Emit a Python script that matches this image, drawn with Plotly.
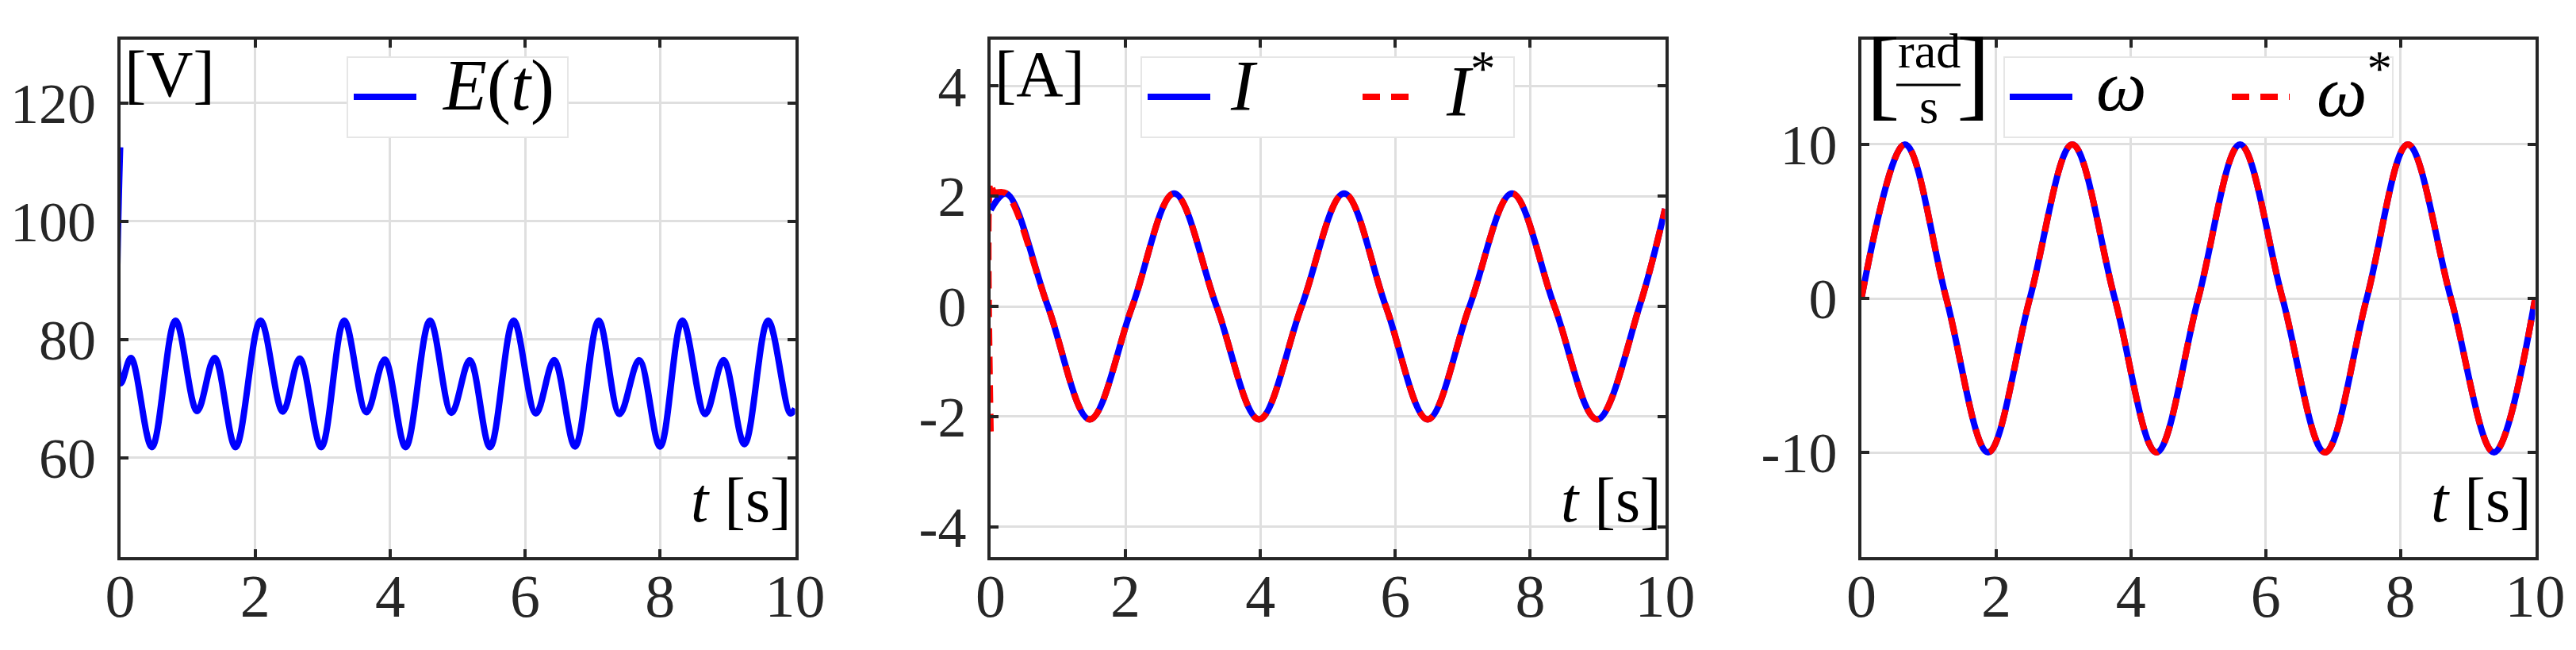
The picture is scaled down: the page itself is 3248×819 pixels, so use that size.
"""Three-panel time response: E(t), I / I*, omega / omega*."""
import plotly.graph_objects as go

# ---- data ------------------------------------------------------------
E_T = [0.0, 0.01, 0.16, 0.47, 0.82, 1.14, 1.40, 1.71, 2.08, 2.41, 2.66, 2.98,
       3.32, 3.65, 3.92, 4.23, 4.59, 4.91, 5.18, 5.48, 5.83, 6.16, 6.43, 6.74,
       7.09, 7.40, 7.69, 8.00, 8.33, 8.67, 8.94, 9.25, 9.60, 9.93, 10.0]
E_V = [112.5, 72.6, 76.9, 61.8, 83.2, 67.9, 76.9, 61.8, 83.2, 67.8, 76.8, 61.8,
       83.2, 67.7, 76.6, 61.8, 83.2, 67.6, 76.5, 61.8, 83.2, 67.5, 76.5, 61.9,
       83.2, 67.4, 76.5, 61.9, 83.2, 67.4, 76.5, 62.3, 83.2, 67.5, 68.3]

I_T = [0.0, 0.23, 0.85, 1.47, 2.10, 2.72, 3.35, 3.98, 4.61, 5.24, 5.86, 6.48,
       7.10, 7.73, 8.36, 8.99, 9.62, 10.0]
I_V = [1.75, 2.05, 0.0, -2.05, 0.0, 2.05, 0.0, -2.05, 0.0, 2.05, 0.0, -2.05,
       0.0, 2.05, 0.0, -2.05, 0.0, 1.77]
IREF_T = [0.0, 0.0, 0.05, 0.23, 0.85, 1.47, 2.10, 2.72, 3.35, 3.98, 4.61, 5.24,
          5.86, 6.48, 7.10, 7.73, 8.36, 8.99, 9.62, 10.0]
IREF_V = [-2.27, 2.27, 2.08, 2.05, 0.0, -2.05, 0.0, 2.05, 0.0, -2.05, 0.0, 2.05,
          0.0, -2.05, 0.0, 2.05, 0.0, -2.05, 0.0, 1.77]

W_T = [0.0, 0.645, 1.26, 1.88, 2.50, 3.13, 3.76, 4.38, 5.00, 5.62, 6.25, 6.88,
       7.50, 8.11, 8.75, 9.39, 10.0]
W_V = [0.0, 10.0, 0.0, -10.0, 0.0, 10.0, 0.0, -10.0, 0.0, 10.0, 0.0, -10.0,
       0.0, 10.0, 0.0, -10.0, 0.0]

X_TICKS = [0, 2, 4, 6, 8, 10]
Y1_TICKS = [60, 80, 100, 120]
Y2_TICKS = [-4, -2, 0, 2, 4]
Y3_TICKS = [-10, 0, 10]
Y_TICK_TEXT2 = ["-4", "-2", "0", "2", "4"]
Y_TICK_TEXT3 = ["-10", "0", "10"]
Y_RANGES = [[43.2, 130.7], [-4.55, 4.84], [-16.8, 16.8]]

# ---- styling ---------------------------------------------------------
W, H = 3248, 819
BLUE = "#0000FF"
RED = "#FF0000"
AX = "#262626"
GRID = "#DFDFDF"
FONT = "Liberation Serif"
LW = 8
DASH = "22px,14px"

PANEL_X = [(143.5, 994.5), (1241, 2091.5), (2339, 3188.5)]
PANEL_Y = (42, 694)


def fx(p):
    return p / W


def fy(p):
    return 1 - p / H


fig = go.Figure()

fig.add_trace(go.Scatter(x=E_T, y=E_V, mode="lines", name="E(t)",
                         line=dict(color=BLUE, width=LW, shape="spline"),
                         xaxis="x", yaxis="y", showlegend=False))
fig.add_trace(go.Scatter(x=I_T, y=I_V, mode="lines", name="I",
                         line=dict(color=BLUE, width=LW, shape="spline"),
                         xaxis="x2", yaxis="y2", showlegend=False))
fig.add_trace(go.Scatter(x=IREF_T, y=IREF_V, mode="lines", name="I*",
                         line=dict(color=RED, width=LW, shape="spline", dash=DASH),
                         xaxis="x2", yaxis="y2", showlegend=False))
fig.add_trace(go.Scatter(x=W_T, y=W_V, mode="lines", name="ω",
                         line=dict(color=BLUE, width=LW, shape="spline"),
                         xaxis="x3", yaxis="y3", showlegend=False))
fig.add_trace(go.Scatter(x=W_T, y=W_V, mode="lines", name="ω*",
                         line=dict(color=RED, width=LW, shape="spline", dash=DASH),
                         xaxis="x3", yaxis="y3", showlegend=False))

axis_common = dict(
    showline=True, linecolor=AX, linewidth=4, mirror="ticks",
    ticks="inside", ticklen=10, tickwidth=4, tickcolor=AX,
    showgrid=True, gridcolor=GRID, gridwidth=3, zeroline=False,
    automargin=False,
)

y_ticks = [(Y1_TICKS, [str(v) for v in Y1_TICKS]),
           (Y2_TICKS, Y_TICK_TEXT2),
           (Y3_TICKS, Y_TICK_TEXT3)]

layout = dict(
    template="none",
    width=W, height=H, autosize=False,
    margin=dict(l=0, r=0, t=0, b=0, pad=0),
    paper_bgcolor="white", plot_bgcolor="white",
    showlegend=False,
)
for i in range(3):
    sx = "" if i == 0 else str(i + 1)
    x0, x1 = PANEL_X[i]
    layout["xaxis" + sx] = dict(
        axis_common, domain=[fx(x0), fx(x1)], range=[0, 10],
        tickvals=X_TICKS, ticktext=[str(v) for v in X_TICKS],
        anchor="y" + sx, ticklabelstandoff=-20,
        tickfont=dict(family=FONT, size=76, color=AX),
    )
    layout["yaxis" + sx] = dict(
        axis_common, domain=[fy(PANEL_Y[1]), fy(PANEL_Y[0])], range=Y_RANGES[i],
        tickvals=y_ticks[i][0], ticktext=y_ticks[i][1],
        anchor="x" + sx, ticklabelstandoff=12,
        tickfont=dict(family=FONT, size=72, color=AX),
    )
fig.update_layout(**layout)

annotations = []
shapes = []


def text(x, y, s, size, anchor="left"):
    annotations.append(dict(
        x=fx(x), y=fy(y), xref="paper", yref="paper", text=s, showarrow=False,
        xanchor=anchor, yanchor="middle", borderpad=0,
        font=dict(family=FONT, size=size, color="black"),
    ))


# unit labels and time labels
text(148, 86, "[V]", 82)
text(1245, 86, "[A]", 82)
for (x0, x1) in PANEL_X:
    text(x1 - 4, 622, "<i>t</i> [s]", 80, anchor="right")

# fraction rad / s
text(2344, 84, "[", 128)
text(2458, 84, "]", 128)
text(2424, 56, "rad", 62, anchor="center")
text(2424, 126, "s", 62, anchor="center")
shapes.append(dict(type="line", xref="paper", yref="paper",
                   x0=fx(2383), x1=fx(2464), y0=fy(99), y1=fy(99),
                   line=dict(color="black", width=3)))

# legends
LEGENDS = [
    ((430, 708), [(BLUE, None, 438, 517, 548, "<i>E</i>(<i>t</i>)")]),
    ((1431, 1901), [(BLUE, None, 1439, 1518, 1542, "<i>I</i>"),
                    (RED, DASH, 1710, 1782, 1814, "<i>I</i><sup>*</sup>")]),
    ((2519, 3009), [(BLUE, None, 2526, 2605, 2634, "<i>ω</i>"),
                    (RED, DASH, 2806, 2879, 2912, "<i>ω</i><sup>*</sup>")]),
]
for (bx0, bx1), items in LEGENDS:
    shapes.append(dict(type="rect", xref="paper", yref="paper",
                       x0=fx(bx0), x1=fx(bx1), y0=fy(165), y1=fy(64),
                       line=dict(color="#E6E6E6", width=2), fillcolor="white",
                       layer="above"))
    for color, dash, lx0, lx1, tx, label in items:
        shapes.append(dict(type="line", xref="paper", yref="paper",
                           x0=fx(lx0), x1=fx(lx1), y0=fy(114), y1=fy(114),
                           line=dict(color=color, width=LW, dash=dash or "solid"),
                           layer="above"))
        text(tx, 100, label, 90)

fig.update_layout(annotations=annotations, shapes=shapes)

fig.write_html("out.html")
